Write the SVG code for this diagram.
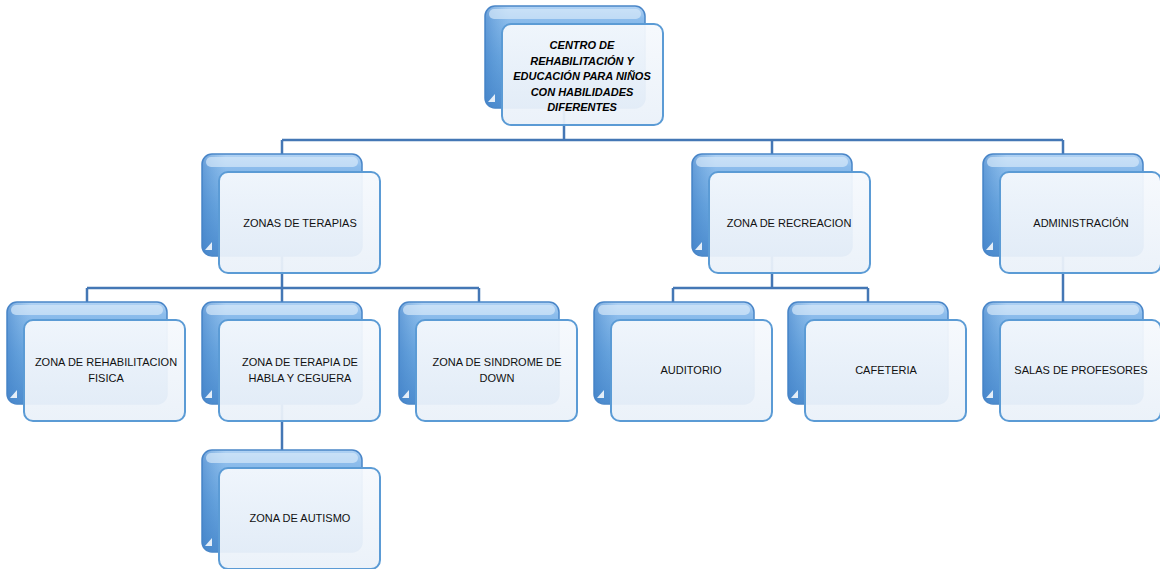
<svg xmlns="http://www.w3.org/2000/svg" width="1160" height="569" viewBox="0 0 1160 569">
<defs>
<linearGradient id="gBack" x1="0" y1="0" x2="0" y2="1">
<stop offset="0" stop-color="#b4d4f4"/>
<stop offset="0.12" stop-color="#8dbdec"/>
<stop offset="0.5" stop-color="#6aa6e0"/>
<stop offset="1" stop-color="#4d8ccf"/>
</linearGradient>
<linearGradient id="gSide" x1="0" y1="0" x2="1" y2="0">
<stop offset="0" stop-color="#3f7fc6" stop-opacity="0.55"/>
<stop offset="0.15" stop-color="#5b9bd5" stop-opacity="0"/>
</linearGradient>
<linearGradient id="gFront" x1="0" y1="0" x2="0" y2="1">
<stop offset="0" stop-color="#f6f9fd"/>
<stop offset="1" stop-color="#eaf1f9"/>
</linearGradient>
<symbol id="node" overflow="visible">
<rect x="0" y="0" width="160" height="102" rx="10" fill="url(#gBack)" stroke="#4a86c8" stroke-width="1.5"/>
<rect x="0" y="0" width="160" height="102" rx="10" fill="url(#gSide)"/>
<rect x="4" y="3" width="152" height="10" rx="5" fill="#d6e8fa" opacity="0.7"/>
<path d="M3,96 l7,-8 v8 z" fill="#ffffff" opacity="0.85"/>
<rect x="17" y="18" width="161" height="101" rx="9" fill="url(#gFront)" fill-opacity="0.94" stroke="#5b9bd5" stroke-width="2"/>
</symbol>
</defs>
<style>
.t{font-family:"Liberation Sans",Arial,sans-serif;font-size:11px;fill:#111;text-anchor:middle}
.b{font-weight:bold;font-style:italic;fill:#000}
.c{fill:none;stroke:#4477b5;stroke-width:2.5}
</style>
<rect width="1160" height="569" fill="#ffffff"/>
<g id="connectors">
<path class="c" d="M564,100 V140 M282,140 H1063 M282,140 V160 M772,140 V160 M1063,140 V160"/>
<path class="c" d="M282,250 V288 M87,288 H479 M87,288 V308 M282,288 V308 M479,288 V308"/>
<path class="c" d="M772,250 V288 M673,288 H868 M673,288 V308 M868,288 V308"/>
<path class="c" d="M1063,250 V308"/>
<path class="c" d="M282,400 V456"/>
</g>
<g id="n-centro">
<use href="#node" x="485" y="6"/>
<text class="t b" x="582" y="49">CENTRO DE</text>
<text class="t b" x="582" y="64.5">REHABILITACIÓN Y</text>
<text class="t b" x="582" y="80">EDUCACIÓN PARA NIÑOS</text>
<text class="t b" x="582" y="95.5">CON HABILIDADES</text>
<text class="t b" x="582" y="111">DIFERENTES</text>
</g>
<g id="n-terapias">
<use href="#node" x="202" y="154"/>
<text class="t" x="300" y="227">ZONAS DE TERAPIAS</text>
</g>
<g id="n-recreacion">
<use href="#node" x="692" y="154"/>
<text class="t" x="789" y="227">ZONA DE RECREACION</text>
</g>
<g id="n-admin">
<use href="#node" x="983" y="154"/>
<text class="t" x="1081" y="227">ADMINISTRACIÓN</text>
</g>
<g id="n-rehab">
<use href="#node" x="7" y="302"/>
<text class="t" x="106" y="366">ZONA DE REHABILITACION</text>
<text class="t" x="106" y="382">FISICA</text>
</g>
<g id="n-habla">
<use href="#node" x="202" y="302"/>
<text class="t" x="300" y="366">ZONA DE TERAPIA DE</text>
<text class="t" x="300" y="382">HABLA Y CEGUERA</text>
</g>
<g id="n-down">
<use href="#node" x="399" y="302"/>
<text class="t" x="497" y="366">ZONA DE SINDROME DE</text>
<text class="t" x="497" y="382">DOWN</text>
</g>
<g id="n-auditorio">
<use href="#node" x="594" y="302"/>
<text class="t" x="691" y="374">AUDITORIO</text>
</g>
<g id="n-cafeteria">
<use href="#node" x="788" y="302"/>
<text class="t" x="886" y="374">CAFETERIA</text>
</g>
<g id="n-salas">
<use href="#node" x="983" y="302"/>
<text class="t" x="1081" y="374">SALAS DE PROFESORES</text>
</g>
<g id="n-autismo">
<use href="#node" x="202" y="450"/>
<text class="t" x="300" y="522">ZONA DE AUTISMO</text>
</g>
</svg>
